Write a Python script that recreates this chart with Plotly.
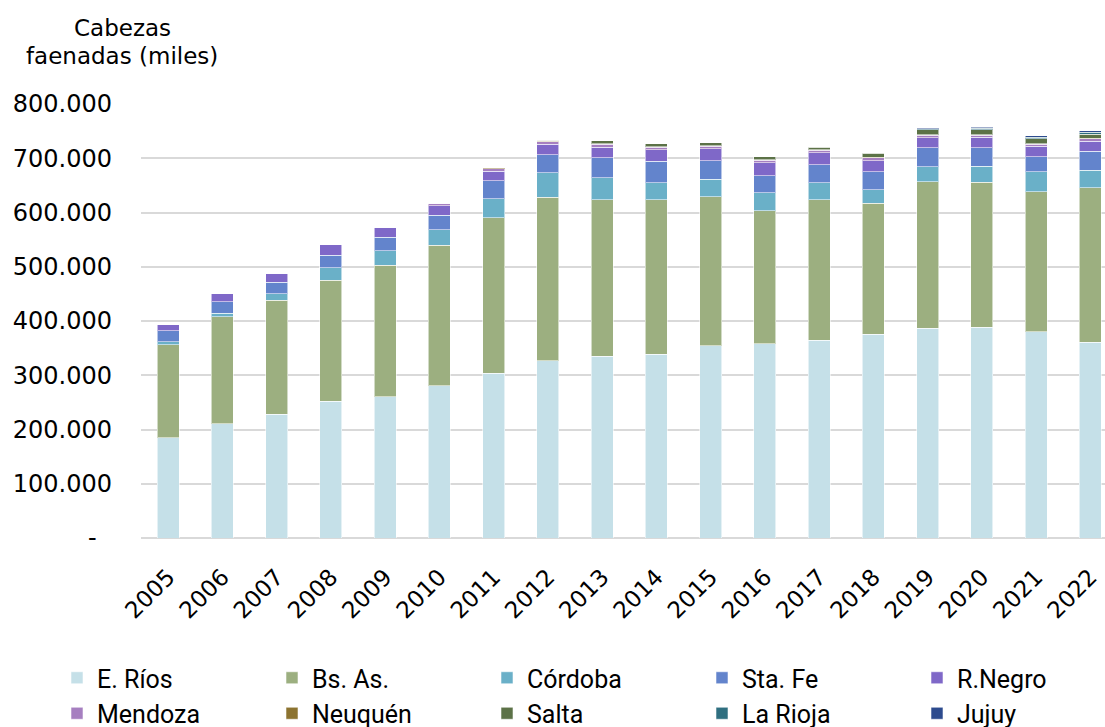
import plotly.graph_objects as go

years = ["2005", "2006", "2007", "2008", "2009", "2010", "2011", "2012", "2013",
         "2014", "2015", "2016", "2017", "2018", "2019", "2020", "2021", "2022"]

# Cabezas faenadas por provincia (unidades)
e_rios = [185200, 211000, 228300, 252000, 260700, 280400, 303700, 327000, 335000,
          338700, 354600, 358300, 364800, 375400, 387000, 388300, 380200, 361100]
bs_as = [170600, 196500, 209500, 222700, 242300, 259600, 286300, 301000, 288300,
         284600, 274200, 245300, 258500, 241600, 270000, 267500, 257800, 284300]
cordoba = [6200, 6900, 12300, 23300, 26400, 28100, 35700, 45000, 40600,
           31900, 32500, 32600, 31300, 25200, 27700, 29500, 36900, 32100]
sta_fe = [19600, 21400, 21700, 23500, 25300, 27100, 32600, 33300, 36800,
          39300, 34000, 31400, 33200, 33200, 34500, 33900, 27600, 35600]
r_negro = [11800, 14100, 16500, 19000, 18400, 17700, 17700, 19500, 19600,
           21000, 22000, 24000, 22200, 20200, 19000, 19500, 19600, 18400]
mendoza = [0, 0, 0, 0, 0, 4000, 5000, 4500, 5200,
           5100, 5100, 4500, 4500, 5600, 4500, 4000, 4000, 4000]
neuquen = [0, 0, 0, 0, 0, 400, 1300, 600, 1000,
           1000, 1000, 1000, 1000, 1000, 1000, 1000, 1000, 1000]
salta = [0, 0, 0, 0, 0, 0, 0, 2500, 5500,
         5500, 5500, 5500, 5000, 6700, 9000, 9000, 9000, 8000]
la_rioja = [0, 0, 0, 0, 0, 0, 0, 0, 0,
            0, 0, 500, 1100, 800, 2000, 2400, 3000, 3500]
jujuy = [0, 0, 0, 0, 0, 0, 0, 0, 0,
         0, 0, 0, 0, 800, 1700, 2000, 2000, 2500]

series = [
    ("E. Ríos", e_rios, "#c5e0e8"),
    ("Bs. As.", bs_as, "#9caf80"),
    ("Córdoba", cordoba, "#6ab0c8"),
    ("Sta. Fe", sta_fe, "#6384cc"),
    ("R.Negro", r_negro, "#7f68c8"),
    ("Mendoza", mendoza, "#a67fc0"),
    ("Neuquén", neuquen, "#8c7330"),
    ("Salta", salta, "#5c7247"),
    ("La Rioja", la_rioja, "#2f6f80"),
    ("Jujuy", jujuy, "#2d4b8e"),
]

y_ticks = [0, 100000, 200000, 300000, 400000, 500000, 600000, 700000, 800000]
y_tick_text = ["-\u00a0\u00a0", "100.000", "200.000", "300.000", "400.000",
               "500.000", "600.000", "700.000", "800.000"]

fig = go.Figure()
for name, vals, color in series:
    fig.add_trace(go.Bar(
        x=years, y=vals, name=name, width=0.405,
        marker=dict(color=color, line=dict(color="rgba(255,255,255,0.55)", width=1)),
    ))

W, H = 1105, 727
ML, MR, MT, MB = 141, 0, 104, 189
pw = W - ML - MR
ph = H - MT - MB


def px_x(x):
    return (x - ML) / pw


def px_y(y):
    return (ph - (y - MT)) / ph


fig.update_layout(
    width=W, height=H,
    barmode="stack",
    plot_bgcolor="white", paper_bgcolor="white",
    margin=dict(l=ML, r=MR, t=MT, b=MB, pad=0, autoexpand=False),
    font=dict(family="DejaVu Sans", size=23, color="#000000"),
    xaxis=dict(
        type="category", range=[-0.5, 17.27], tickangle=-45,
        showgrid=False, showline=False, ticks="", automargin=False,
        ticklabelstandoff=20,
        tickfont=dict(family="DejaVu Sans", size=23, color="#000000"),
    ),
    yaxis=dict(
        range=[0, 800000], tickvals=y_ticks, ticktext=y_tick_text,
        showgrid=True, gridcolor="#d9d9d9", gridwidth=2,
        zeroline=True, zerolinecolor="#d9d9d9", zerolinewidth=2,
        showline=False, ticks="", ticklabelstandoff=28, automargin=False,
        tickfont=dict(family="DejaVu Sans", size=24, color="#000000"),
    ),
    legend=dict(
        orientation="h", x=px_x(57), xanchor="left",
        y=px_y(655), yanchor="top",
        entrywidth=170, entrywidthmode="pixels",
        font=dict(family="Roboto", size=25, color="#000000"),
        traceorder="normal", itemclick=False,
    ),
    annotations=[
        dict(text="Cabezas", xref="paper", yref="paper",
             x=px_x(122), y=px_y(28), xanchor="center", yanchor="middle",
             showarrow=False, font=dict(family="DejaVu Sans", size=23, color="#000000")),
        dict(text="faenadas (miles)", xref="paper", yref="paper",
             x=px_x(122), y=px_y(56), xanchor="center", yanchor="middle",
             showarrow=False, font=dict(family="DejaVu Sans", size=23, color="#000000")),
    ],
)

fig.write_html("out.html")
